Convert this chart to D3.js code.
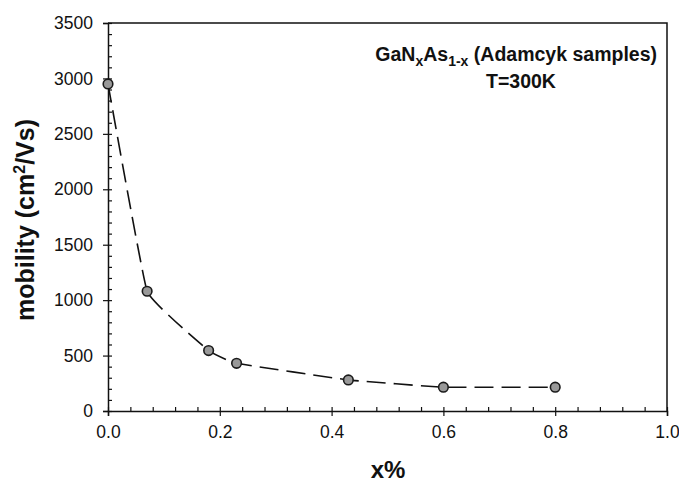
<!DOCTYPE html>
<html>
<head>
<meta charset="utf-8">
<script src="https://cdn.jsdelivr.net/npm/d3@7"></script>
<style>
  body { margin: 0; background: #fff; }
  svg { display: block; font-family: "Liberation Sans", Arial, sans-serif; }
  .tick text { font-size: 17.5px; fill: #111; }
  .domain { stroke: #111; stroke-width: 1.5; }
  .tick line { stroke: #111; stroke-width: 1.2; }
</style>
</head>
<body>
<div id="chart"></div>
<script>
var margin = {top: 23, right: 12, bottom: 77, left: 108},
  width = 679 - margin.left - margin.right,
  height = 488 - margin.top - margin.bottom;

// nitrogen fraction x (%) and electron mobility (cm2/Vs)
const xPct = [0.0, 0.07, 0.18, 0.23, 0.43, 0.6, 0.8];
const mobility = [2950, 1080, 545, 430, 280, 215, 215];
const xTicks = [0, 0.2, 0.4, 0.6, 0.8, 1.0];
const yTicks = [0, 500, 1000, 1500, 2000, 2500, 3000, 3500];

const svg = d3.select("#chart").append("svg")
  .attr("width", 679)
  .attr("height", 488);

const g = svg.append("g")
  .attr("transform", `translate(${margin.left},${margin.top})`);

const x = d3.scaleLinear().domain([0, 1]).range([0, width]);
const y = d3.scaleLinear().domain([0, 3500]).range([height, 0]);

// minor ticks point inward, major ticks outward
g.append("g")
  .attr("transform", `translate(0,${height})`)
  .call(d3.axisBottom(x).tickValues(d3.range(0, 1.0001, 0.04)).tickSize(-4).tickFormat(""))
  .call(a => a.select(".domain").remove());
g.append("g")
  .call(d3.axisLeft(y).tickValues(d3.range(0, 3501, 100)).tickSize(-4).tickFormat(""))
  .call(a => a.select(".domain").remove());

g.append("g")
  .attr("transform", `translate(0,${height})`)
  .call(d3.axisBottom(x).tickValues(xTicks).tickSize(5).tickPadding(10).tickFormat(d3.format(".1f")));
g.append("g")
  .call(d3.axisLeft(y).tickValues(yTicks).tickSize(5).tickPadding(10).tickFormat(d3.format("d")));

// frame top and right
g.append("path")
  .attr("d", `M0,0H${width}V${height}`)
  .attr("fill", "none")
  .attr("stroke", "#111")
  .attr("stroke-width", 1.5);

const pts = xPct.map((v, i) => [v, mobility[i]]);

g.append("path")
  .datum(pts)
  .attr("fill", "none")
  .attr("stroke", "#111")
  .attr("stroke-width", 1.6)
  .attr("stroke-dasharray", "19,8")
  .attr("d", d3.line().x(d => x(d[0])).y(d => y(d[1])).curve(d3.curveCardinal.tension(0.75)));

g.selectAll("circle.pt")
  .data(pts)
  .join("circle")
  .attr("class", "pt")
  .attr("cx", d => x(d[0]))
  .attr("cy", d => y(d[1]))
  .attr("r", 4.8)
  .attr("fill", "#999")
  .attr("stroke", "#1a1a1a")
  .attr("stroke-width", 1.6);

// title
const t = svg.append("text")
  .attr("x", 657).attr("y", 61)
  .attr("text-anchor", "end")
  .attr("font-size", 19.5).attr("font-weight", "bold").attr("fill", "#111");
t.append("tspan").text("GaN");
t.append("tspan").attr("font-size", 14).attr("dy", 5).text("x");
t.append("tspan").attr("dy", -5).text("As");
t.append("tspan").attr("font-size", 14).attr("dy", 5).text("1-x");
t.append("tspan").attr("dy", -5).text(" (Adamcyk samples)");

svg.append("text")
  .attr("x", 521).attr("y", 88)
  .attr("text-anchor", "middle")
  .attr("font-size", 19.5).attr("font-weight", "bold").attr("fill", "#111")
  .text("T=300K");

// axis labels
const yl = svg.append("text")
  .attr("transform", "translate(34,220) rotate(-90)")
  .attr("text-anchor", "middle")
  .attr("font-size", 25).attr("font-weight", "bold").attr("fill", "#111");
yl.append("tspan").text("mobility (cm");
yl.append("tspan").attr("font-size", 16).attr("dy", -9).text("2");
yl.append("tspan").attr("dy", 9).text("/Vs)");

svg.append("text")
  .attr("x", 388).attr("y", 478)
  .attr("text-anchor", "middle")
  .attr("font-size", 24).attr("font-weight", "bold").attr("fill", "#111")
  .text("x%");
</script>
</body>
</html>
